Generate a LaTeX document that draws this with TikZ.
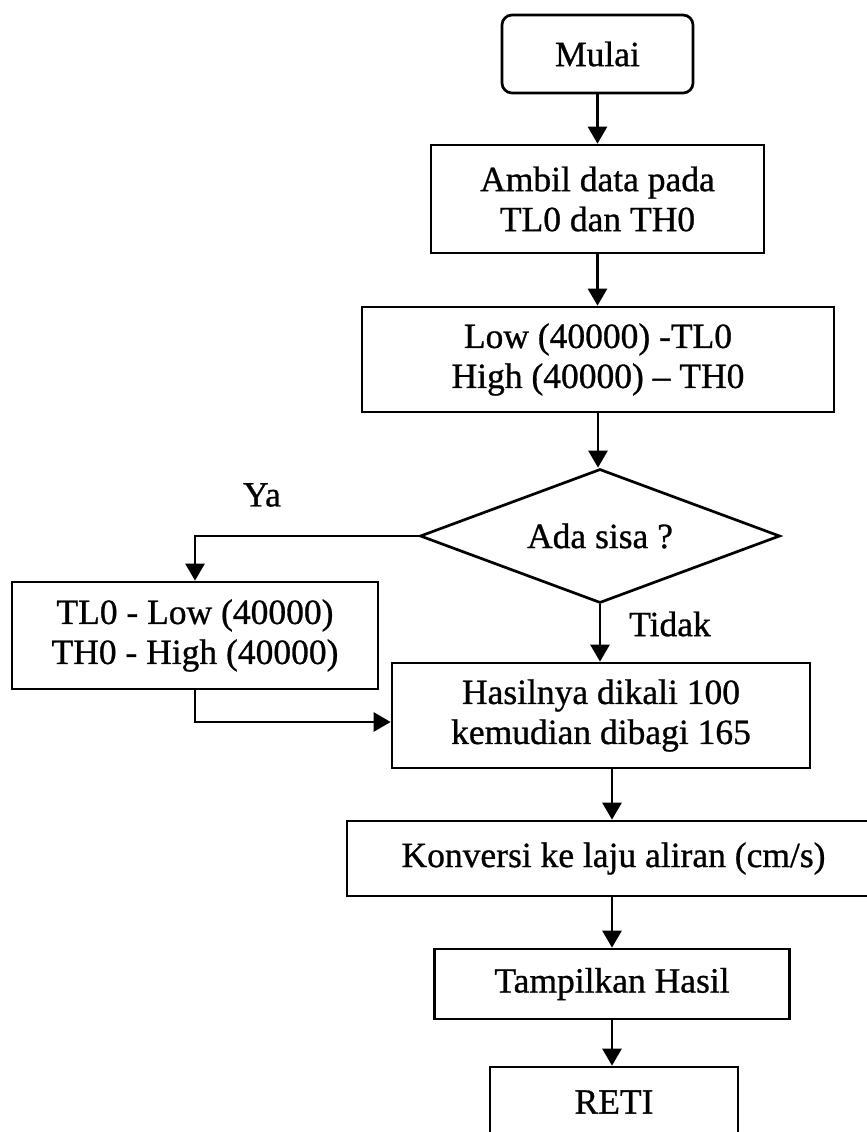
\documentclass[tikz,border=0pt]{standalone}
\usepackage{fontspec}
\setmainfont{Liberation Serif}[FakeBold=0.8]
\usetikzlibrary{shapes.geometric,arrows.meta,calc}
\begin{document}
\begin{tikzpicture}[x=1pt,y=-1pt,
  txt/.style={font=\fontsize{35.5}{40}\selectfont, align=center, inner sep=0pt},
  procbox/.style={txt, draw, line width=2.7pt, rectangle},
  termbox/.style={procbox, rounded corners=10pt},
  decbox/.style={txt, draw, line width=2.7pt, diamond, aspect=2.7},
  arr/.style={line width=2.7pt, -{Triangle[width=19pt,length=17pt]}}]
  \useasboundingbox (0,0) rectangle (867,1132);
  \clip (0,0) rectangle (867,1132);

  % flow steps
  \node[termbox, minimum width=191pt, minimum height=78pt] (start) at (597.5,54) {Mulai};
  \node[procbox, minimum width=333pt, minimum height=108pt] (ambil) at (597.5,199) {Ambil data pada\\TL0 dan TH0};
  \node[procbox, minimum width=472pt, minimum height=105pt] (low) at (598,359.5) {Low (40000) -TL0\\High (40000) -- TH0};
  \node[decbox, minimum width=360pt, minimum height=134pt] (dec) at (600,536) {Ada sisa ?};
  \node[procbox, minimum width=366pt, minimum height=107pt] (alt) at (195,635.5) {TL0 - Low (40000)\\TH0 - High (40000)};
  \node[procbox, minimum width=418pt, minimum height=105pt] (calc) at (601,715.5) {Hasilnya dikali 100\\kemudian dibagi 165};
  \node[procbox, minimum width=533pt, minimum height=75pt] (conv) at (613.5,858.5) {Konversi ke laju aliran (cm/s)};
  \node[procbox, minimum width=355pt, minimum height=70pt] (show) at (612,984) {Tampilkan Hasil};
  \node[procbox, minimum width=248pt, minimum height=70pt] (end) at (614,1102) {RETI};

  % branch labels
  \node[txt] (ya) at (262,495) {Ya};
  \node[txt, anchor=west] (tidak) at (629,624) {Tidak};

  % connectors
  \draw[arr] (start.south) -- (start.south |- ambil.north);
  \draw[arr] (ambil.south) -- (ambil.south |- low.north);
  \draw[arr] (low.south) -- (low.south |- dec.north);
  \draw[arr] (dec.south) -- (dec.south |- calc.north);
  \draw[arr] (dec.west) -| (alt.north);
  \coordinate (join) at ($(calc.west)+(0,6.5)$);
  \draw[arr] (alt.south) |- (join);
  \draw[arr] (calc.south -| show.north) -- (conv.north -| show.north);
  \draw[arr] (conv.south -| show.north) -- (show.north);
  \draw[arr] (show.south) -- (show.south |- end.north);
\end{tikzpicture}
\end{document}
